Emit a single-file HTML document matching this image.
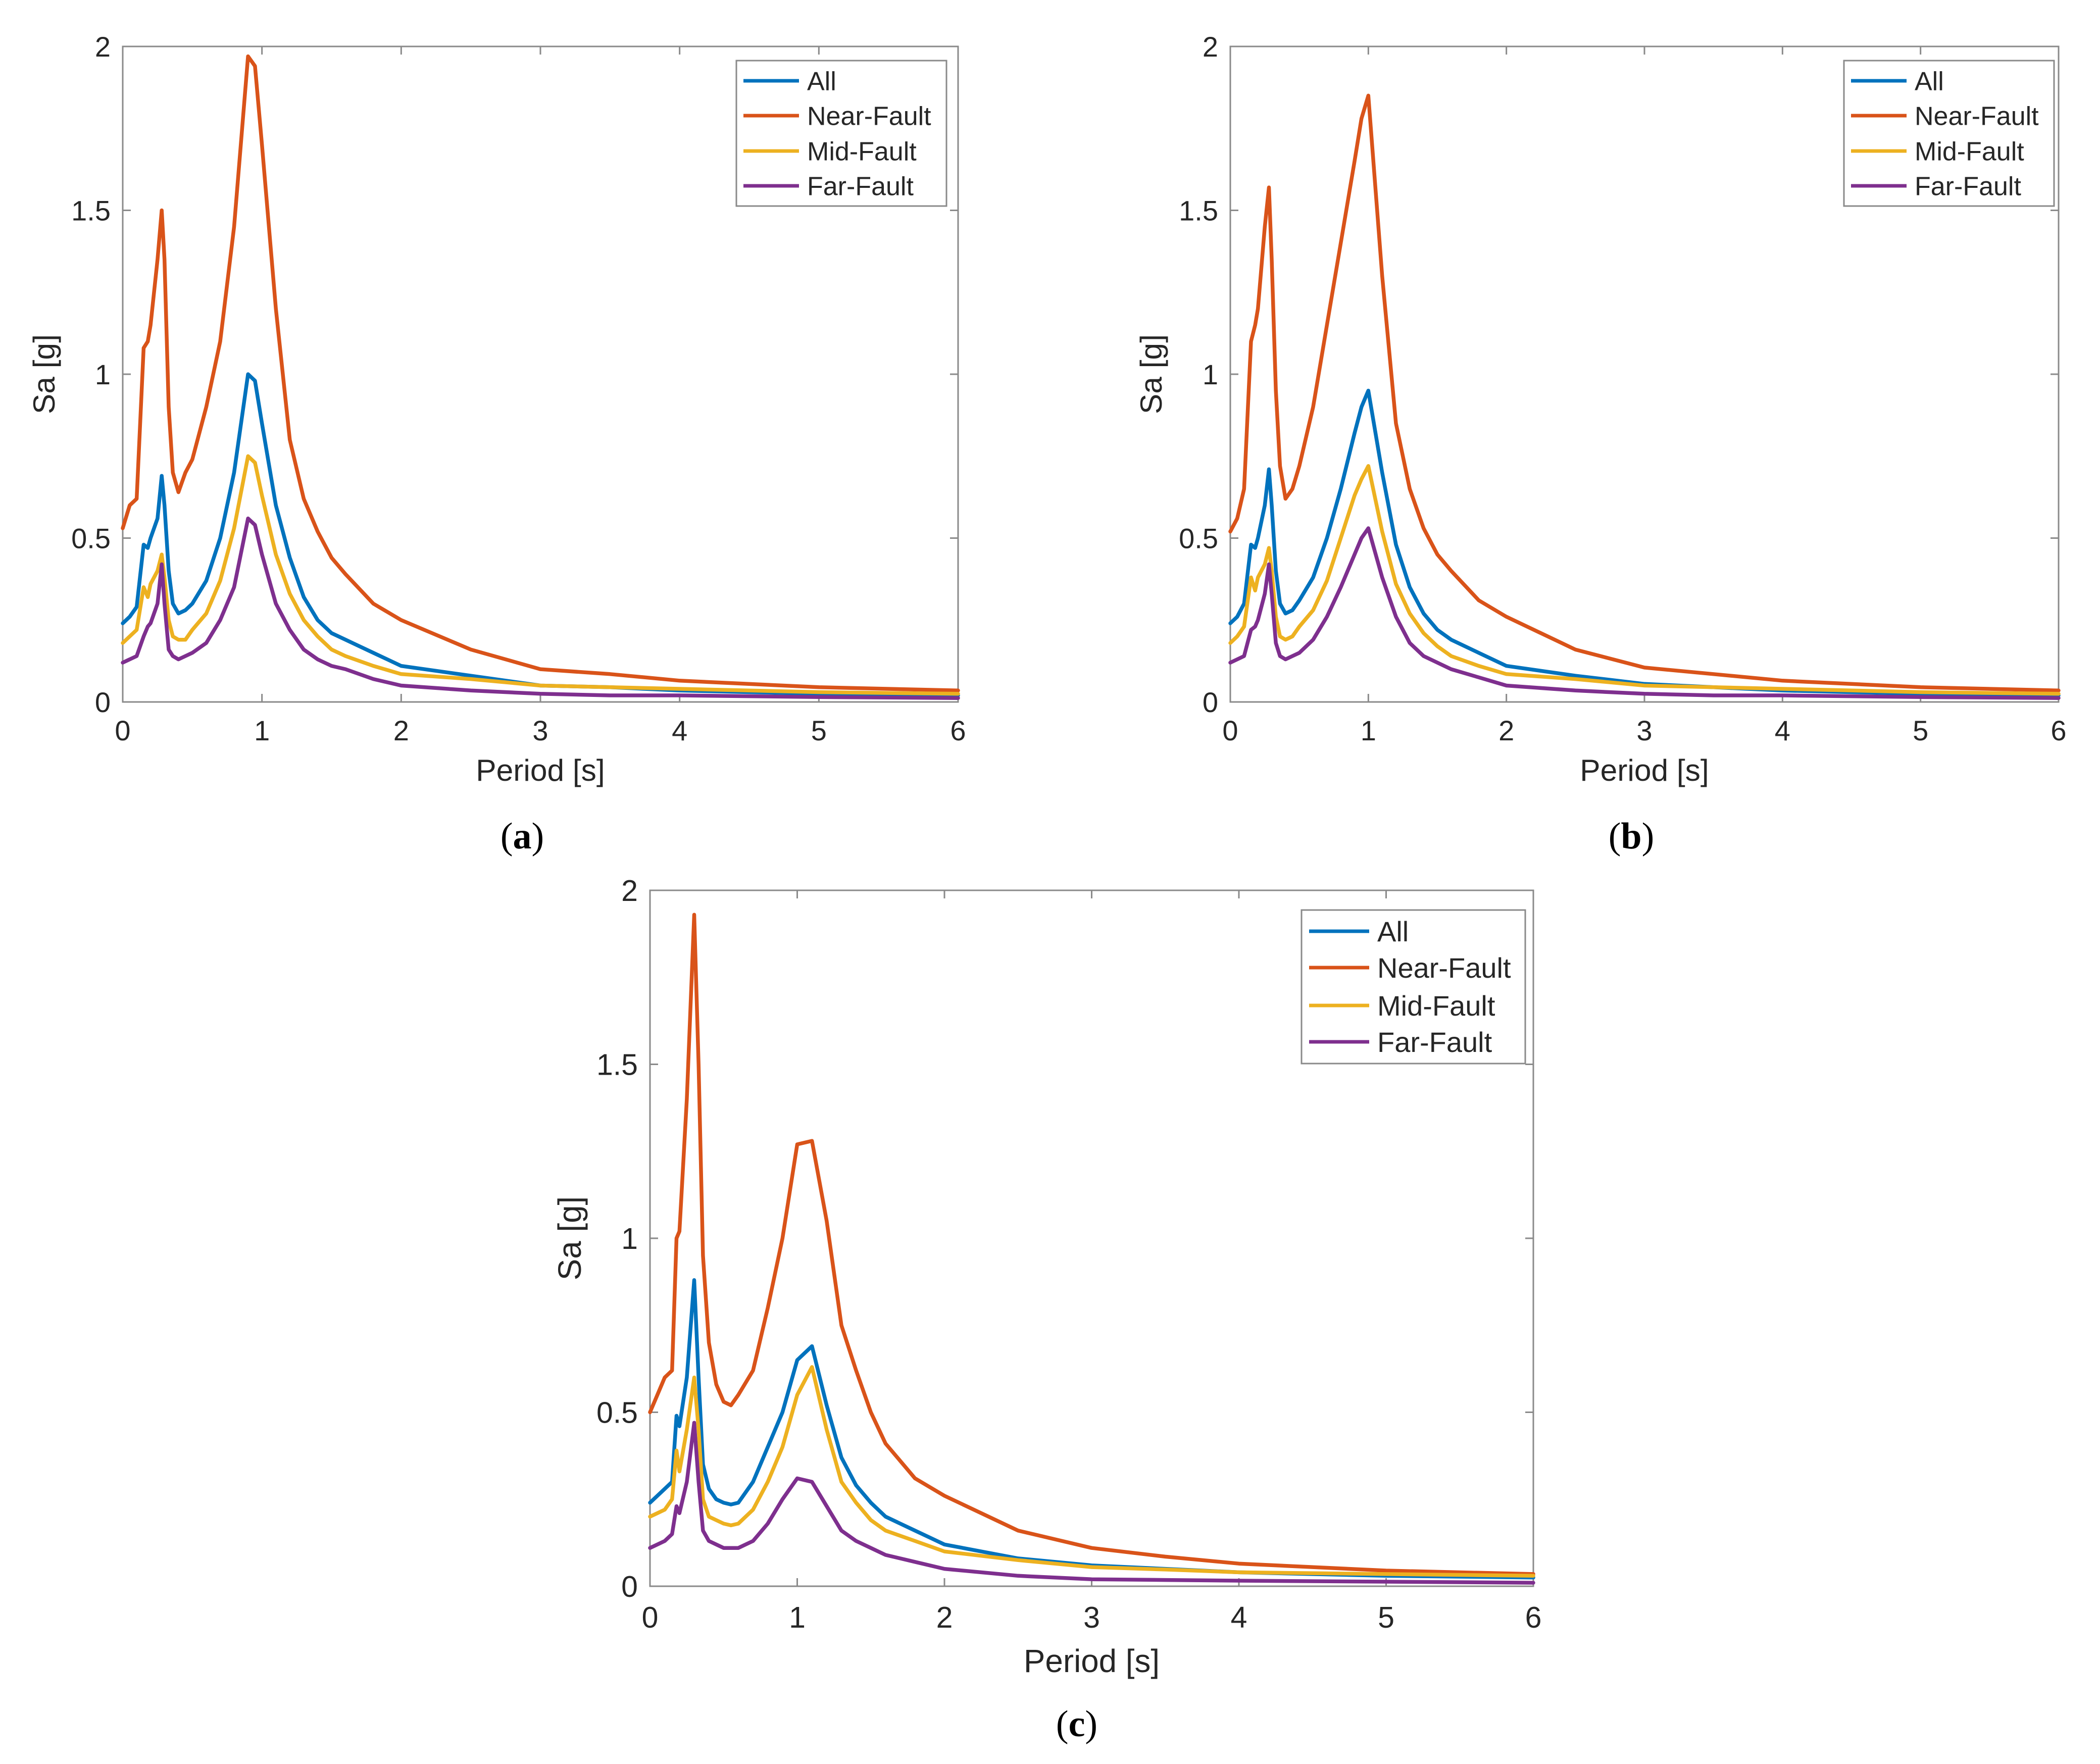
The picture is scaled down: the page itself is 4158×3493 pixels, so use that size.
<!DOCTYPE html>
<html><head><meta charset="utf-8">
<style>
html,body{margin:0;padding:0;background:#fff;}
svg{display:block;}
text{font-family:"Liberation Sans",sans-serif;fill:#262626;}
.cap{font-family:"Liberation Serif",serif;fill:#000;}
</style></head>
<body>
<svg id="fig" width="4158" height="3493" viewBox="0 0 4158 3493" xmlns="http://www.w3.org/2000/svg"></svg>
<script>
// ---- data ----
const seriesNames = ["All","Near-Fault","Mid-Fault","Far-Fault"];
const xTicks = [0,1,2,3,4,5,6];
const yTicks = [0,0.5,1,1.5,2];
const yTickLabels = ["0","0.5","1","1.5","2"];

const periodAB = [0,0.05,0.1,0.15,0.18,0.2,0.25,0.28,0.3,0.33,0.36,0.4,0.45,0.5,0.6,0.7,0.8,0.9,0.95,1.0,1.1,1.2,1.3,1.4,1.5,1.6,1.8,2.0,2.5,3.0,3.5,4,5,6];
const aAll  = [0.24,0.26,0.29,0.48,0.47,0.5,0.56,0.69,0.6,0.4,0.3,0.27,0.28,0.3,0.37,0.5,0.7,1.0,0.98,0.85,0.6,0.44,0.32,0.25,0.21,0.19,0.15,0.11,0.08,0.05,0.045,0.035,0.025,0.02];
const aNear = [0.53,0.6,0.62,1.08,1.1,1.15,1.35,1.5,1.35,0.9,0.7,0.64,0.7,0.74,0.9,1.1,1.45,1.97,1.94,1.7,1.2,0.8,0.62,0.52,0.44,0.39,0.3,0.25,0.16,0.1,0.085,0.065,0.045,0.035];
const aMid  = [0.18,0.2,0.22,0.35,0.32,0.36,0.4,0.45,0.38,0.25,0.2,0.19,0.19,0.22,0.27,0.37,0.53,0.75,0.73,0.63,0.45,0.33,0.25,0.2,0.16,0.14,0.11,0.085,0.07,0.05,0.045,0.04,0.03,0.025];
const aFar  = [0.12,0.13,0.14,0.2,0.23,0.24,0.3,0.42,0.3,0.16,0.14,0.13,0.14,0.15,0.18,0.25,0.35,0.56,0.54,0.45,0.3,0.22,0.16,0.13,0.11,0.1,0.07,0.05,0.035,0.025,0.02,0.02,0.015,0.012];

const bAll  = [0.24,0.26,0.3,0.48,0.47,0.5,0.6,0.71,0.6,0.4,0.3,0.27,0.28,0.31,0.38,0.5,0.65,0.82,0.9,0.95,0.7,0.48,0.35,0.27,0.22,0.19,0.15,0.11,0.08,0.055,0.045,0.035,0.025,0.02];
const bNear = [0.52,0.56,0.65,1.1,1.15,1.2,1.45,1.57,1.35,0.95,0.72,0.62,0.65,0.72,0.9,1.15,1.4,1.65,1.78,1.85,1.3,0.85,0.65,0.53,0.45,0.4,0.31,0.26,0.16,0.105,0.085,0.065,0.045,0.035];
const bMid  = [0.18,0.2,0.23,0.38,0.34,0.38,0.42,0.47,0.4,0.26,0.2,0.19,0.2,0.23,0.28,0.37,0.5,0.63,0.68,0.72,0.52,0.36,0.27,0.21,0.17,0.14,0.11,0.085,0.07,0.05,0.045,0.04,0.03,0.025];
const bFar  = [0.12,0.13,0.14,0.22,0.23,0.25,0.33,0.42,0.33,0.18,0.14,0.13,0.14,0.15,0.19,0.26,0.35,0.45,0.5,0.53,0.38,0.26,0.18,0.14,0.12,0.1,0.075,0.05,0.035,0.025,0.02,0.02,0.015,0.012];

const periodC = [0,0.05,0.1,0.15,0.18,0.2,0.25,0.3,0.33,0.36,0.4,0.45,0.5,0.55,0.6,0.7,0.8,0.9,1.0,1.1,1.2,1.3,1.4,1.5,1.6,1.8,2,2.5,3,3.5,4,5,6];
const cAll  = [0.24,0.26,0.28,0.3,0.49,0.46,0.6,0.88,0.6,0.35,0.28,0.25,0.24,0.235,0.24,0.3,0.4,0.5,0.65,0.69,0.52,0.37,0.29,0.24,0.2,0.16,0.12,0.08,0.06,0.05,0.04,0.03,0.025];
const cNear = [0.5,0.55,0.6,0.62,1.0,1.02,1.4,1.93,1.5,0.95,0.7,0.58,0.53,0.52,0.55,0.62,0.8,1.0,1.27,1.28,1.05,0.75,0.62,0.5,0.41,0.31,0.26,0.16,0.11,0.085,0.065,0.045,0.035];
const cMid  = [0.2,0.21,0.22,0.25,0.39,0.33,0.45,0.6,0.45,0.25,0.2,0.19,0.18,0.175,0.18,0.22,0.3,0.4,0.55,0.63,0.45,0.3,0.24,0.19,0.16,0.13,0.1,0.075,0.055,0.048,0.04,0.035,0.03];
const cFar  = [0.11,0.12,0.13,0.15,0.23,0.21,0.3,0.47,0.3,0.16,0.13,0.12,0.11,0.11,0.11,0.13,0.18,0.25,0.31,0.3,0.23,0.16,0.13,0.11,0.09,0.07,0.05,0.03,0.02,0.018,0.016,0.013,0.01];

const colors = ["#0072BD","#D95319","#EDB120","#7E2F8E"];
const NS = "http://www.w3.org/2000/svg";
const svg = document.getElementById("fig");

function mk(tag, attrs, parent){
  const e = document.createElementNS(NS, tag);
  for (const k in attrs) e.setAttribute(k, attrs[k]);
  (parent||svg).appendChild(e);
  return e;
}

function drawPanel(p){
  const g = mk("g", {});
  
  
  const xs = v => p.x0 + (p.x1 - p.x0) * v / 6;
  const ys = v => p.y0 - (p.y0 - p.y1) * v / 2;
  const box = mk("rect", {x:p.x0, y:p.y1, width:p.x1-p.x0, height:p.y0-p.y1, fill:"#fff", stroke:"#8a8a8a", "stroke-width":3}, g);
  
  
  const tl = 16;
  xTicks.forEach((t,i) => {
    const X = xs(t);
    mk("line", {x1:X, y1:p.y0, x2:X, y2:p.y0-tl, stroke:"#8a8a8a", "stroke-width":3}, g);
    mk("line", {x1:X, y1:p.y1, x2:X, y2:p.y1+tl, stroke:"#8a8a8a", "stroke-width":3}, g);
    const tx = mk("text", {x:X, y:p.y0 + p.fs*1.02 + p.xtOff, "font-size":p.fs, "text-anchor":"middle"}, g);
    tx.textContent = String(t);
    
    
  });
  yTicks.forEach((t,i) => {
    const Y = ys(t);
    mk("line", {x1:p.x0, y1:Y, x2:p.x0+tl, y2:Y, stroke:"#8a8a8a", "stroke-width":3}, g);
    mk("line", {x1:p.x1, y1:Y, x2:p.x1-tl, y2:Y, stroke:"#8a8a8a", "stroke-width":3}, g);
    const ty = mk("text", {x:p.x0-24, y:Y + p.fs*0.36, "font-size":p.fs, "text-anchor":"end"}, g);
    ty.textContent = yTickLabels[i];
    
    
  });
  const xt = mk("text", {x:(p.x0+p.x1)/2, y:p.xTitleY, "font-size":p.fs*1.08, "text-anchor":"middle"}, g);
  xt.textContent = "Period [s]";
  
  
  const yc = (p.y0+p.y1)/2;
  const yt = mk("text", {x:p.yTitleX, y:yc, "font-size":p.fs*1.08, "text-anchor":"middle", transform:`rotate(-90 ${p.yTitleX} ${yc})`}, g);
  yt.textContent = "Sa [g]";
  
  
  p.series.forEach((vals, si) => {
    const d = vals.map((v,i) => (i?"L":"M") + xs(p.period[i]).toFixed(1) + "," + ys(v).toFixed(1)).join(" ");
    const path = mk("path", {d:d, fill:"none", stroke:colors[si], "stroke-width":7.5, "stroke-linejoin":"round", "stroke-linecap":"round"}, g);
    
    
  });
  const L = p.leg;
  const lg = mk("g", {}, g);
  
  
  mk("rect", {x:L.x0, y:L.y0, width:L.x1-L.x0, height:L.y1-L.y0, fill:"#fff", stroke:"#8a8a8a", "stroke-width":3}, lg);
  seriesNames.forEach((n, i) => {
    const ry = L.rows[i];
    const ln = mk("line", {x1:L.lx0, y1:ry, x2:L.lx1, y2:ry, stroke:colors[i], "stroke-width":7}, lg);
    
    
    const t = mk("text", {x:L.tx, y:ry + L.fs*0.36, "font-size":L.fs}, lg);
    t.textContent = n;
    
    
  });
  const cap = mk("text", {x:p.capX, y:p.capY, "font-size":74, "text-anchor":"middle", class:"cap"}, g);
  cap.innerHTML = '(<tspan font-weight="bold">' + p.id + '</tspan>)';
  
  
}

drawPanel({id:"a", x0:243, x1:1897, y0:1390, y1:92, fs:56, xtOff:19, xTitleY:1546, yTitleX:108,
  period:periodAB, series:[aAll,aNear,aMid,aFar],
  leg:{x0:1458,x1:1874,y0:120,y1:408,lx0:1472,lx1:1582,tx:1598,fs:52,rows:[160,229,299,368]},
  capX:1034, capY:1680});
drawPanel({id:"b", x0:2436, x1:4076, y0:1390, y1:92, fs:56, xtOff:19, xTitleY:1546, yTitleX:2300,
  period:periodAB, series:[bAll,bNear,bMid,bFar],
  leg:{x0:3651,x1:4067,y0:120,y1:408,lx0:3665,lx1:3775,tx:3791,fs:52,rows:[160,229,299,368]},
  capX:3230, capY:1680});
drawPanel({id:"c", x0:1287, x1:3036, y0:3141, y1:1763, fs:59, xtOff:22, xTitleY:3311, yTitleX:1150,
  period:periodC, series:[cAll,cNear,cMid,cFar],
  leg:{x0:2577,x1:3020,y0:1802,y1:2106,lx0:2592,lx1:2711,tx:2727,fs:56,rows:[1844,1916,1991,2063]},
  capX:2132, capY:3438});
</script>
</body></html>
